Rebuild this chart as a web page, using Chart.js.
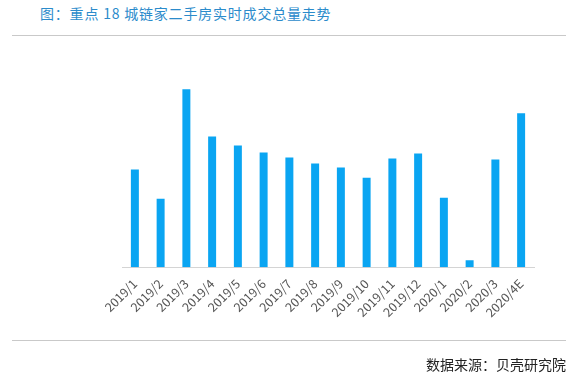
<!DOCTYPE html>
<html>
<head>
<meta charset="utf-8">
<script src="https://cdn.jsdelivr.net/npm/chart.js@4/dist/chart.umd.min.js"></script>
<style>
    body { margin: 0; background: #fff; }
    #wrap { position: relative; width: 572px; height: 376px; overflow: hidden; font-family: "Noto Sans CJK SC", sans-serif; }
    #resultChart { position: absolute; left: 0; top: 0; }
    .title { position: absolute; left: 40px; top: 3px; font-size: 14px; color: #2b8bcb; letter-spacing: 0.8px; }
    .source { position: absolute; right: 6px; top: 354px; font-size: 14px; color: #222; }
    .rule { position: absolute; left: 12px; width: 554px; height: 1px; background: #c9c9c9; }
</style>
</head>
<body>
<div id="wrap">
    <div class="title">图：重点 18 城链家二手房实时成交总量走势</div>
    <div class="rule" style="top:35px"></div>
    <canvas id="resultChart" width="572" height="376"></canvas>
    <div class="rule" style="top:340px"></div>
    <div class="source">数据来源：贝壳研究院</div>
</div>
<script>
const months = ["2019/1", "2019/2", "2019/3", "2019/4", "2019/5", "2019/6", "2019/7", "2019/8",
    "2019/9", "2019/10", "2019/11", "2019/12", "2020/1", "2020/2", "2020/3", "2020/4E"];
const volumes = [97, 68, 177, 130, 121, 114, 109, 103, 99, 89, 108, 113, 69, 7, 107, 153];

document.addEventListener("DOMContentLoaded", function () {
    const ctx = document.getElementById("resultChart").getContext("2d");

    new Chart(ctx, {
        type: 'bar',
        data: {
            labels: months,
            datasets: [{
                data: volumes,
                backgroundColor: '#0aa5f2',
                barPercentage: 0.31,
                categoryPercentage: 1
            }]
        },
        options: {
            responsive: false,
            animation: false,
            layout: { padding: { left: 122, right: 38, top: 66, bottom: 55 } },
            plugins: { legend: { display: false }, tooltip: { enabled: false } },
            scales: {
                x: {
                    grid: { display: false },
                    border: { display: true, color: '#d4d4d4' },
                    ticks: {
                        color: '#555',
                        font: { size: 12.5, family: 'Noto Sans CJK SC' },
                        minRotation: 45,
                        maxRotation: 45,
                        padding: 1
                    }
                },
                y: { display: false, min: 0, max: 200 }
            }
        }
    });
});
</script>
</body>
</html>
